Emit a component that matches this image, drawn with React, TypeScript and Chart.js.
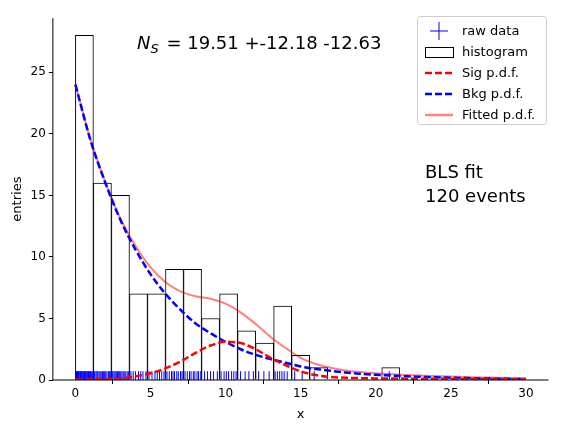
import React, { useEffect, useRef } from 'react';
import { Chart, registerables } from 'chart.js';

Chart.register(...registerables);

const binWidth = 1.2;
const histCounts = [28, 16, 15, 7, 7, 9, 9, 5, 7, 4, 3, 6, 2, 1, 0, 0, 0, 1, 0, 0, 0, 0, 0, 0, 0];

const rawData = [
  0.02, 0.05, 0.08, 0.1, 0.14, 0.18, 0.2, 0.25, 0.3, 0.33, 0.37, 0.4, 0.45, 0.5, 0.55, 0.6, 0.63, 0.68, 0.72, 0.78, 0.82, 0.87, 0.9, 0.95, 1.0, 1.05, 1.1, 1.16,
  1.25, 1.3, 1.38, 1.45, 1.5, 1.58, 1.65, 1.72, 1.8, 1.88, 1.95, 2.02, 2.1, 2.2, 2.28, 2.35,
  2.45, 2.5, 2.58, 2.65, 2.72, 2.8, 2.88, 2.95, 3.02, 3.1, 3.18, 3.25, 3.35, 3.45, 3.55,
  3.7, 3.85, 4.0, 4.2, 4.35, 4.5, 4.7,
  4.9, 5.1, 5.3, 5.45, 5.6, 5.75, 5.9,
  6.1, 6.25, 6.4, 6.5, 6.6, 6.75, 6.85, 7.0, 7.1,
  7.3, 7.45, 7.6, 7.7, 7.85, 7.95, 8.1, 8.2, 8.35,
  8.6, 8.8, 9.0, 9.2, 9.45,
  9.7, 9.9, 10.05, 10.2, 10.4, 10.55, 10.7,
  11.0, 11.3, 11.55, 11.85,
  12.2, 12.55, 12.9,
  13.3, 13.45, 13.6, 13.75, 13.9, 14.1,
  14.6, 15.1,
  15.9,
  20.9,
];

const curveX = [0, 1, 2, 3, 4, 5, 6, 7, 8, 9, 10, 11, 12, 13, 14, 15, 16, 17, 18, 19, 20, 21, 22, 23, 24, 25, 26, 27, 28, 29, 30];
const bkgPdf = [24, 19.5, 16, 13, 10.6, 8.6, 7.0, 5.7, 4.6, 3.8, 3.1, 2.5, 2.05, 1.7, 1.4, 1.1, 0.9, 0.75, 0.6, 0.5, 0.42, 0.36, 0.3, 0.26, 0.22, 0.19, 0.16, 0.13, 0.11, 0.09, 0.07];
const sigPdf = [0.05, 0.05, 0.07, 0.12, 0.3, 0.55, 0.95, 1.5, 2.2, 2.8, 3.1, 3.0, 2.5, 1.8, 1.2, 0.7, 0.4, 0.25, 0.18, 0.15, 0.13, 0.12, 0.11, 0.1, 0.1, 0.09, 0.09, 0.08, 0.08, 0.07, 0.07];
const fittedPdf = [24.05, 19.55, 16.07, 13.12, 10.9, 9.15, 7.95, 7.2, 6.8, 6.6, 6.2, 5.5, 4.55, 3.5, 2.6, 1.8, 1.3, 1.0, 0.78, 0.65, 0.55, 0.48, 0.41, 0.36, 0.32, 0.28, 0.25, 0.21, 0.19, 0.16, 0.14];

const xTicks = [0, 5, 10, 15, 20, 25, 30];
const yTicks = [0, 5, 10, 15, 20, 25];

const FONT = 'DejaVu Sans';
const PINK = 'rgba(255,0,0,0.5)';

const overlay = {
  id: 'overlay',
  afterDraw(chart: any) {
    const ctx = chart.ctx;
    const a = chart.chartArea;
    ctx.save();
    ctx.fillStyle = 'black';
    ctx.textBaseline = 'alphabetic';
    ctx.font = `italic 18px ${FONT}`;
    let x = 129;
    const y = 41;
    ctx.fillText('N', x, y);
    x += ctx.measureText('N').width;
    ctx.font = `italic 13px ${FONT}`;
    ctx.fillText('S', x, y + 4);
    x += ctx.measureText('S').width + 2;
    ctx.font = `18px ${FONT}`;
    ctx.fillText(' = 19.51 +-12.18 -12.63', x, y);
    ctx.fillText('BLS fit', 417, 170);
    ctx.fillText('120 events', 417, 194);

    const lx = 409, ly = 8, lw = 129, lh = 108;
    ctx.fillStyle = 'rgba(255,255,255,0.8)';
    ctx.strokeStyle = '#cccccc';
    ctx.lineWidth = 1;
    ctx.beginPath();
    ctx.roundRect(lx + 0.5, ly + 0.5, lw, lh, 3);
    ctx.fill();
    ctx.stroke();
    const items = ['raw data', 'histogram', 'Sig p.d.f.', 'Bkg p.d.f.', 'Fitted p.d.f.'];
    ctx.font = `13px ${FONT}`;
    items.forEach((t, i) => {
      const cy = ly + 15 + i * 21;
      const sx = lx + 8, ex = lx + 36;
      ctx.save();
      if (i === 0) {
        ctx.strokeStyle = 'blue';
        ctx.lineWidth = 1;
        ctx.beginPath();
        ctx.moveTo(sx + 14, cy - 9); ctx.lineTo(sx + 14, cy + 9);
        ctx.moveTo(sx + 5, cy); ctx.lineTo(sx + 23, cy);
        ctx.stroke();
      } else if (i === 1) {
        ctx.fillStyle = 'white';
        ctx.strokeStyle = 'black';
        ctx.fillRect(sx + 0.5, cy - 4.5, 28, 10);
        ctx.strokeRect(sx + 0.5, cy - 4.5, 28, 10);
      } else {
        ctx.lineWidth = 2.5;
        ctx.strokeStyle = i === 2 ? 'red' : i === 3 ? 'blue' : PINK;
        if (i < 4) ctx.setLineDash([7, 3]);
        ctx.beginPath();
        ctx.moveTo(sx, cy); ctx.lineTo(ex, cy);
        ctx.stroke();
      }
      ctx.restore();
      ctx.fillStyle = 'black';
      ctx.textBaseline = 'middle';
      ctx.fillText(t, lx + 45, cy + 1);
    });
    ctx.strokeStyle = 'black';
    ctx.lineWidth = 1;
    ctx.beginPath();
    ctx.moveTo(a.left, a.top); ctx.lineTo(a.left, a.bottom); ctx.lineTo(a.right, a.bottom);
    ctx.stroke();
    ctx.restore();
  },
};

export default function App() {
  const ref = useRef<HTMLCanvasElement>(null);
  useEffect(() => {
    if (!ref.current) return;
    const hist = histCounts
      .map((c, i) => ({ x: (i + 0.5) * binWidth, y: c }))
      .filter((p) => p.y > 0);
    const line = (vals: number[]) => curveX.map((x, i) => ({ x, y: vals[i] }));
    const chart = new Chart(ref.current, {
      data: {
        datasets: [
          {
            type: 'line', label: 'Fitted p.d.f.', data: line(fittedPdf), borderColor: PINK,
            borderWidth: 2, pointRadius: 0, cubicInterpolationMode: 'monotone', order: 2,
          },
          {
            type: 'line', label: 'Bkg p.d.f.', data: line(bkgPdf), borderColor: 'blue',
            borderWidth: 2.5, borderDash: [7, 3], pointRadius: 0, cubicInterpolationMode: 'monotone', order: 1,
          },
          {
            type: 'line', label: 'Sig p.d.f.', data: line(sigPdf), borderColor: 'red',
            borderWidth: 2.5, borderDash: [7, 3], pointRadius: 0, cubicInterpolationMode: 'monotone', order: 0,
          },
          {
            type: 'bar', label: 'histogram', data: hist, backgroundColor: 'white', borderColor: 'black',
            borderWidth: 1, barPercentage: 1, categoryPercentage: 1, order: 4,
          },
          {
            type: 'scatter', label: 'raw data', data: rawData.map((x) => ({ x, y: 0.35 })),
            pointStyle: 'line', rotation: 90, radius: 4.5, borderColor: 'blue', borderWidth: 1, order: 3,
          },
        ] as any,
      },
      options: {
        animation: false,
        responsive: false,
        layout: { padding: { left: 0, right: 2, top: 2, bottom: 0 } },
        plugins: { legend: { display: false }, tooltip: { enabled: false } },
        scales: {
          x: {
            type: 'linear', min: -1.5, max: 31.5, offset: false,
            afterBuildTicks: (s: any) => { s.ticks = xTicks.map((v) => ({ value: v })); },
            grid: { drawOnChartArea: false, drawTicks: true, tickLength: 4, color: 'black' } as any,
            border: { display: false },
            ticks: { color: 'black', font: { family: FONT, size: 12 } },
            title: { display: true, text: 'x', color: 'black', font: { family: FONT, size: 13 }, padding: 2 },
          },
          y: {
            min: 0, max: 29.4,
            afterBuildTicks: (s: any) => { s.ticks = yTicks.map((v) => ({ value: v })); },
            grid: { drawOnChartArea: false, drawTicks: true, tickLength: 4, color: 'black' } as any,
            border: { display: false },
            ticks: { color: 'black', font: { family: FONT, size: 12 } },
            title: { display: true, text: 'entries', color: 'black', font: { family: FONT, size: 13 }, padding: 2 },
          },
        },
      },
      plugins: [overlay],
    });
    return () => chart.destroy();
  }, []);
  return (
    <div style={{ width: 546, height: 416 }}>
      <canvas ref={ref} width={546} height={416} />
    </div>
  );
}
